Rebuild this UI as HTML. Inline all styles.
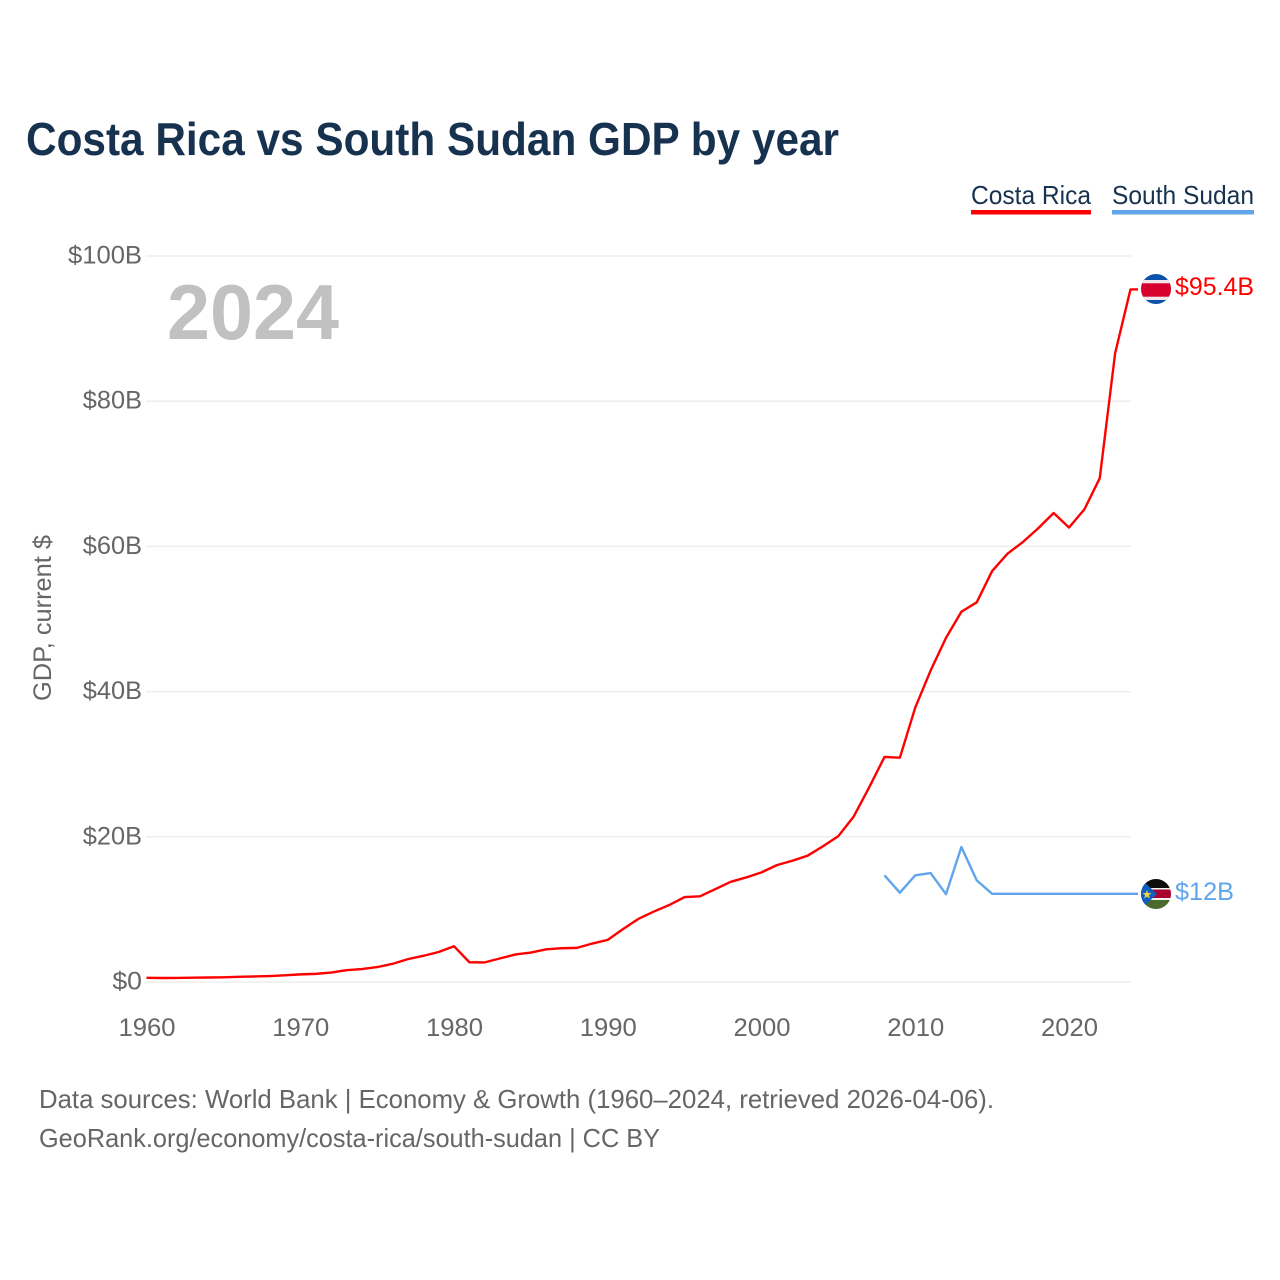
<!DOCTYPE html>
<html lang="en">
<head>
<meta charset="utf-8">
<title>Costa Rica vs South Sudan GDP by year</title>
<style>
html,body{margin:0;padding:0;background:#fff;width:1280px;height:1280px;overflow:hidden}
svg{display:block}
text{font-family:"Liberation Sans",sans-serif}
</style>
</head>
<body>
<svg id="chart" xmlns="http://www.w3.org/2000/svg" width="1280" height="1280" viewBox="0 0 1280 1280">
  <defs>
    <clipPath id="clip-cr"><circle cx="1156" cy="289" r="15"/></clipPath>
    <clipPath id="clip-ss"><circle cx="1156" cy="894" r="15"/></clipPath>
  </defs>
  <rect width="1280" height="1280" fill="#fff"/>
  <text x="26" y="155" font-size="46" font-weight="700" fill="#17324f" textLength="813" lengthAdjust="spacingAndGlyphs">Costa Rica vs South Sudan GDP by year</text>

  <g>
    <g>
      <text x="971" y="204" font-size="26" fill="#17324f" textLength="120" lengthAdjust="spacingAndGlyphs">Costa Rica</text>
      <rect x="971" y="210" width="120" height="4.5" fill="#ff0000"/>
    </g>
    <g>
      <text x="1112" y="204" font-size="26" fill="#17324f" textLength="142" lengthAdjust="spacingAndGlyphs">South Sudan</text>
      <rect x="1112" y="210" width="142" height="4.5" fill="#60a5ec"/>
    </g>
  </g>

  <g id="grid"></g>
  <g id="y-axis"></g>
  <g id="x-axis"></g>

  <text transform="translate(51,701) rotate(-90)" font-size="25" fill="#666" textLength="166" lengthAdjust="spacingAndGlyphs">GDP, current $</text>
  <text x="167" y="339" font-size="78" font-weight="700" fill="#c1c1c1" textLength="172" lengthAdjust="spacingAndGlyphs">2024</text>

  <g id="series"></g>

  <g id="flag-cr" clip-path="url(#clip-cr)">
    <rect x="1141" y="273" width="30" height="32" fill="#0b52ad"/>
    <rect x="1141" y="280" width="30" height="20" fill="#f3e6e8"/>
    <rect x="1141" y="283.3" width="30" height="13.4" fill="#d8002c"/>
  </g>
  <text id="label-cr" x="1175" y="295" font-size="25" fill="#ff0000" textLength="79" lengthAdjust="spacingAndGlyphs">$95.4B</text>

  <g id="flag-ss" clip-path="url(#clip-ss)">
    <rect x="1141" y="879" width="30" height="30" fill="#f2f2f2"/>
    <rect x="1141" y="879" width="30" height="9" fill="#0c0c0c"/>
    <rect x="1141" y="889.5" width="30" height="8.5" fill="#a80030"/>
    <rect x="1141" y="900" width="30" height="9" fill="#4a6b2c"/>
    <polygon points="1141,879 1157,894 1141,909" fill="#0f5fc0"/>
    <text x="1147" y="898.5" font-size="12" text-anchor="middle" fill="#f3d34a">★</text>
  </g>
  <text id="label-ss" x="1175" y="900" font-size="25" fill="#60a5ec" textLength="59" lengthAdjust="spacingAndGlyphs">$12B</text>

  <text x="39" y="1108" font-size="26" fill="#666" textLength="955" lengthAdjust="spacingAndGlyphs">Data sources: World Bank | Economy &amp; Growth (1960–2024, retrieved 2026-04-06).</text>
  <text x="39" y="1147" font-size="26" fill="#666" textLength="621" lengthAdjust="spacingAndGlyphs">GeoRank.org/economy/costa-rica/south-sudan | CC BY</text>
</svg>
<script>
const costaRicaStartYear = 1960;
const costaRicaValues = [0.58,0.55,0.56,0.59,0.62,0.65,0.71,0.76,0.82,0.92,1.05,1.12,1.3,1.63,1.78,2.05,2.5,3.15,3.6,4.13,4.93,2.72,2.7,3.25,3.8,4.05,4.5,4.65,4.7,5.3,5.8,7.3,8.7,9.7,10.6,11.7,11.8,12.8,13.8,14.4,15.1,16.1,16.7,17.4,18.7,20.1,22.8,26.8,31.0,30.9,37.8,42.9,47.4,51.0,52.3,56.6,59.0,60.6,62.5,64.6,62.6,65.1,69.4,86.6,95.4];
const southSudanStartYear = 2008;
const southSudanValues = [14.7,12.3,14.7,15.0,12.1,18.6,14.0,12.15,12.15,12.15,12.15,12.15,12.15,12.15,12.15,12.15,12.15];
const yTickValues = [0,20,40,60,80,100];
const yTickLabels = ["$0","$20B","$40B","$60B","$80B","$100B"];
const xTickValues = [1960,1970,1980,1990,2000,2010,2020];
const xTickLabels = ["1960","1970","1980","1990","2000","2010","2020"];

const NS = "http://www.w3.org/2000/svg";
const xScale = y => 146.5 + (y - 1960) * (1130.5 - 146.5) / 64;
const yScale = v => 982 - v * 7.26;
const END_X = 1138;

const grid = document.getElementById("grid");
const yAxis = document.getElementById("y-axis");
const xAxis = document.getElementById("x-axis");
const series = document.getElementById("series");

yTickValues.forEach((v, i) => {
  const l = document.createElementNS(NS, "line");
  
  
  l.setAttribute("x1", 146);
  l.setAttribute("x2", 1131);
  l.setAttribute("y1", yScale(v));
  l.setAttribute("y2", yScale(v));
  l.setAttribute("stroke", "#eeeeee");
  l.setAttribute("stroke-width", 1.5);
  grid.appendChild(l);

  const t = document.createElementNS(NS, "text");
  
  
  t.setAttribute("x", 142);
  t.setAttribute("y", yScale(v) + 7.5);
  t.setAttribute("text-anchor", "end");
  t.setAttribute("font-size", 25);
  t.setAttribute("fill", "#666");
  t.setAttribute("textLength", yTickLabels[i].length * 14.8);
  t.setAttribute("lengthAdjust", "spacingAndGlyphs");
  t.textContent = yTickLabels[i];
  yAxis.appendChild(t);
});

xTickValues.forEach((v, i) => {
  const t = document.createElementNS(NS, "text");
  
  
  t.setAttribute("x", xScale(v) + 0.5);
  t.setAttribute("y", 1036);
  t.setAttribute("text-anchor", "middle");
  t.setAttribute("font-size", 25);
  t.setAttribute("fill", "#666");
  t.setAttribute("textLength", 57);
  t.setAttribute("lengthAdjust", "spacingAndGlyphs");
  t.textContent = xTickLabels[i];
  xAxis.appendChild(t);
});

function buildPath(startYear, values) {
  const pts = values.map((v, i) => xScale(startYear + i).toFixed(2) + "," + yScale(v).toFixed(2));
  pts.push(END_X + "," + yScale(values[values.length - 1]).toFixed(2));
  return "M" + pts.join("L");
}

const crLine = document.createElementNS(NS, "path");


crLine.setAttribute("d", buildPath(costaRicaStartYear, costaRicaValues));
crLine.setAttribute("fill", "none");
crLine.setAttribute("stroke", "#ff0000");
crLine.setAttribute("stroke-width", 2.4);
crLine.setAttribute("stroke-linejoin", "round");
series.appendChild(crLine);

const ssLine = document.createElementNS(NS, "path");


ssLine.setAttribute("d", buildPath(southSudanStartYear, southSudanValues));
ssLine.setAttribute("fill", "none");
ssLine.setAttribute("stroke", "#60a5ec");
ssLine.setAttribute("stroke-width", 2.4);
ssLine.setAttribute("stroke-linejoin", "round");
series.appendChild(ssLine);
</script>
</body>
</html>
